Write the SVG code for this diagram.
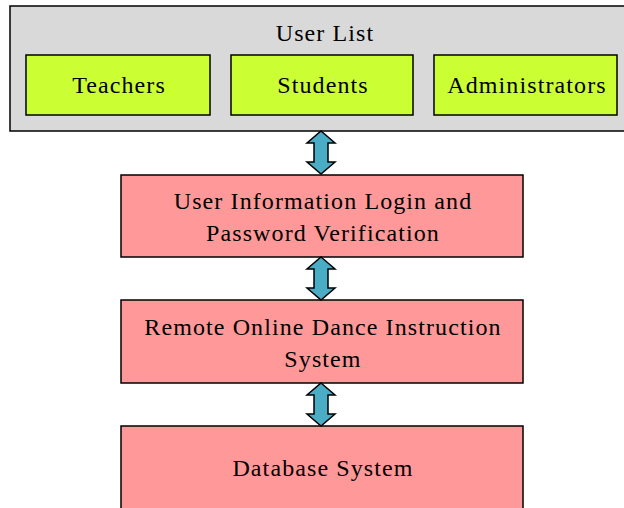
<svg xmlns="http://www.w3.org/2000/svg" width="624" height="508" viewBox="0 0 624 508">
<style>
text{font-family:"Liberation Serif","Times New Roman",serif;font-size:24px;letter-spacing:1.1px;fill:#000;text-anchor:middle}
.box{stroke:#000;stroke-width:1.5}
.grp{fill:#d9d9d9}
.usr{fill:#ccff33}
.sys{fill:#ff9999}
.arr{fill:#4bacc6;stroke:#000;stroke-width:1.5;stroke-linejoin:miter}
</style>
<rect width="624" height="508" fill="#fff"/>
<g id="user-list">
<rect class="box grp" x="10" y="6" width="624" height="125"/>
<text x="325" y="41">User List</text>
</g>
<g id="teachers">
<rect class="box usr" x="26" y="55" width="184" height="60"/>
<text x="119" y="93">Teachers</text>
</g>
<g id="students">
<rect class="box usr" x="231" y="55" width="182" height="60"/>
<text x="323" y="93">Students</text>
</g>
<g id="administrators">
<rect class="box usr" x="434" y="55" width="183" height="60"/>
<text x="527" y="93">Administrators</text>
</g>
<g id="login">
<rect class="box sys" x="121" y="175" width="402" height="82"/>
<text x="323" y="209">User Information Login and</text>
<text x="323" y="241">Password Verification</text>
</g>
<g id="dance-system">
<rect class="box sys" x="121" y="300" width="402" height="83"/>
<text x="323" y="335">Remote Online Dance Instruction</text>
<text x="323" y="367">System</text>
</g>
<g id="database">
<rect class="box sys" x="121" y="426" width="402" height="100"/>
<text x="323" y="476">Database System</text>
</g>
<g id="connectors">
<polygon class="arr" points="321,131 335,143 328,143 328,162 335,162 321,174 307,162 314,162 314,143 307,143"/>
<polygon class="arr" points="321,257 335,269 328,269 328,288 335,288 321,300 307,288 314,288 314,269 307,269"/>
<polygon class="arr" points="321,383 335,395 328,395 328,414 335,414 321,426 307,414 314,414 314,395 307,395"/>
</g>
</svg>
